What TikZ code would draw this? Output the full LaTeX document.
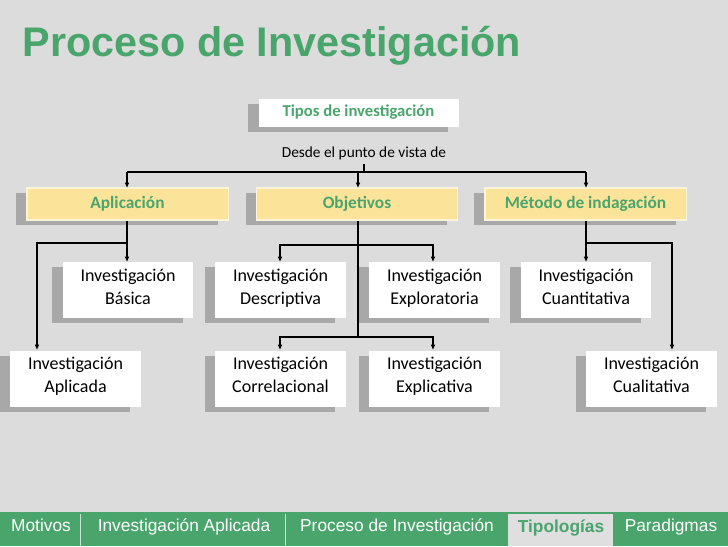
\documentclass[tikz,border=0pt]{standalone}
\usepackage{fontspec}
\setmainfont{Carlito}
\newfontfamily\arialf{Liberation Sans}
\usetikzlibrary{shadows,arrows.meta}
\definecolor{bg}{HTML}{DCDCDC}
\definecolor{grn}{HTML}{4AA56C}
\definecolor{ylw}{HTML}{FCE39A}
\begin{document}
\begin{tikzpicture}[x=0.75pt,y=-0.75pt,
  shd/.style={drop shadow={shadow xshift=-8pt,shadow yshift=-4pt,opacity=.3,fill=black!80}},
  wbox/.style={draw=none,fill=white,shd,minimum width=98pt,minimum height=42pt,align=center,inner sep=0pt,font=\fontsize{13.5}{17}\selectfont},
  ybox/.style={draw=white!60!ylw,line width=1pt,fill=ylw,shd,minimum width=151pt,minimum height=24pt,inner sep=0pt,text=grn,text height=9pt,text depth=3pt,font=\fontsize{13}{14}\selectfont\bfseries},
  con/.style={line width=0.9pt,-{Latex[length=4pt,width=3.5pt]}},
  ln/.style={line width=0.9pt},
  tab/.style={text=white,font=\arialf\fontsize{13}{14}\selectfont,text height=9.5pt,text depth=2.5pt,anchor=center}]
\fill[bg] (0,0) rectangle (728,546);
\node[anchor=west,text=grn,font=\arialf\bfseries\fontsize{31}{34}\selectfont] (title) at (18,46) {Proceso de Investigación};
\node[fill=white,shd,minimum width=150pt,minimum height=21pt,inner sep=0pt,text=grn,text height=9pt,text depth=3pt,font=\fontsize{12.5}{14}\selectfont\bfseries] (tipos) at (358.5,112.5) {Tipos de investigación};
\node[font=\fontsize{11.5}{13}\selectfont] (desde) at (364,153) {Desde el punto de vista de};
\node[ybox] (apl) at (127.5,204) {Aplicación};
\node[ybox] (obj) at (357,204) {Objetivos};
\node[ybox] (met) at (585.5,204) {Método de indagación};
\node[wbox] (bas) at (128,290) {Investigación\\Básica\strut};
\node[wbox] (ap) at (75.5,378.5) {Investigación\\Aplicada\strut};
\node[wbox] (des) at (280.5,290) {Investigación\\Descriptiva\strut};
\node[wbox] (exp) at (434.5,290) {Investigación\\Exploratoria\strut};
\node[wbox] (cor) at (280.5,378.5) {Investigación\\Correlacional\strut};
\node[wbox] (exl) at (434.5,378.5) {Investigación\\Explicativa\strut};
\node[wbox] (cua) at (586,290) {Investigación\\Cuantitativa\strut};
\node[wbox] (cual) at (651.5,378.5) {Investigación\\Cualitativa\strut};
\coordinate (h) at (364,172);
\draw[ln] (desde.south -| h) -- (h);
\draw[ln] (127,172) -- (586,172);
\draw[con] (127,172) -- (127,188);
\draw[con] (358,172) -- (358,188);
\draw[con] (586,172) -- (586,188);
\draw[con] (apl.south -| 127,0) -- (127,262);
\draw[con] (127,243) -- (37,243) -- (37,350);
\draw[ln] (obj.south -| 358,0) -- (358,337);
\draw[con] (358,245) -- (280,245) -- (280,262);
\draw[con] (358,245) -- (433,245) -- (433,262);
\draw[con] (358,337) -- (280,337) -- (280,350);
\draw[con] (358,337) -- (433,337) -- (433,350);
\draw[con] (met.south -| 586,0) -- (586,262);
\draw[con] (586,243) -- (672,243) -- (672,350);
\fill[grn] (0,512) rectangle (728,546);
\fill[bg!90!white] (508,514) rectangle (613,546);
\draw[white!70!grn,line width=0.6pt] (80,514) -- (80,546) (285,514) -- (285,546);
\node[tab] (t1) at (41,527) {Motivos};
\node[tab] (t2) at (184,527) {Investigación Aplicada};
\node[tab] (t3) at (397,527) {Proceso de Investigación};
\node[tab,text=grn,font=\arialf\bfseries\fontsize{13}{14}\selectfont] (t4) at (561,528) {Tipologías};
\node[tab] (t5) at (671,527) {Paradigmas};
\end{tikzpicture}
\end{document}
